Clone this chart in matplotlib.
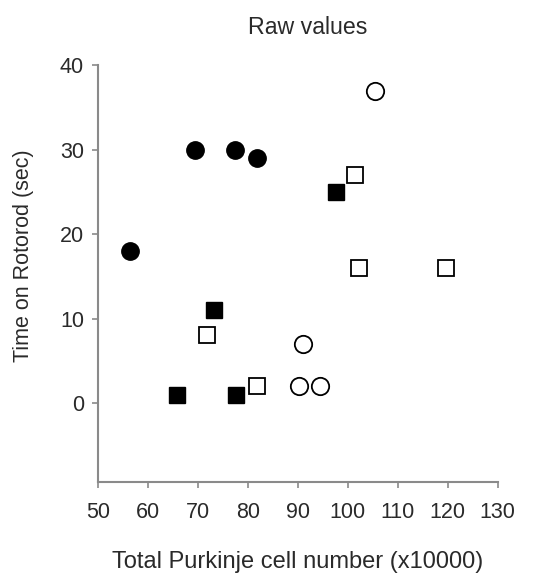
import numpy as np
import matplotlib
matplotlib.use("Agg")
import matplotlib.pyplot as plt

plt.rcParams['font.family'] = ['Liberation Sans', 'DejaVu Sans']

# filled circles
fc_x = [56.5, 69.5, 77.5, 81.8]
fc_y = [18, 30, 30, 29]
# open circles
oc_x = [105.4, 91.1, 90.2, 94.5]
oc_y = [37, 7, 2, 2]
# filled squares
fs_x = [97.6, 73.3, 65.8, 77.6]
fs_y = [25, 11, 1, 1]
# open squares
os_x = [101.5, 102.2, 119.7, 71.9, 81.9]
os_y = [27, 16, 16, 8, 2]

xticks = [50, 60, 70, 80, 90, 100, 110, 120, 130]
yticks = [0, 10, 20, 30, 40]

axcol = '#8a8a8a'
txtcol = '#2a2a2a'

fig = plt.figure(figsize=(5.44, 5.77), dpi=100)
ax = fig.add_axes([0.180, 0.1646, 0.735, 0.7224])

ax.plot(fc_x, fc_y, 'o', ms=12.5, mfc='black', mec='black', ls='none')
ax.plot(oc_x, oc_y, 'o', ms=12.5, mfc='white', mec='black', mew=1.3, ls='none')
ax.plot(fs_x, fs_y, 's', ms=11.5, mfc='black', mec='black', ls='none')
ax.plot(os_x, os_y, 's', ms=11.5, mfc='white', mec='black', mew=1.3, ls='none')

ax.set_xlim(50, 130)
ax.set_ylim(-9.35, 40)
ax.set_xticks(xticks)
ax.set_yticks(yticks)
for s in ['top', 'right']:
    ax.spines[s].set_visible(False)
for s in ['left', 'bottom']:
    ax.spines[s].set_color(axcol)
    ax.spines[s].set_linewidth(1.5)
ax.tick_params(direction='out', length=4, width=1.2, color=axcol,
               labelsize=15.5, labelcolor=txtcol)
ax.tick_params(axis='x', pad=10.5)
ax.tick_params(axis='y', pad=6)

fig.text(308 / 544, 1 - 28 / 577, 'Raw values', fontsize=16.7, color=txtcol,
         ha='center', va='center')
fig.text(298 / 544, 1 - 562 / 577, 'Total Purkinje cell number (x10000)',
         fontsize=17, color=txtcol, ha='center', va='center')
fig.text(24 / 544, 1 - 256 / 577, 'Time on Rotorod (sec)', fontsize=15.5,
         color=txtcol, ha='center', va='center', rotation=90)

fig.savefig('out.png', dpi=100)
